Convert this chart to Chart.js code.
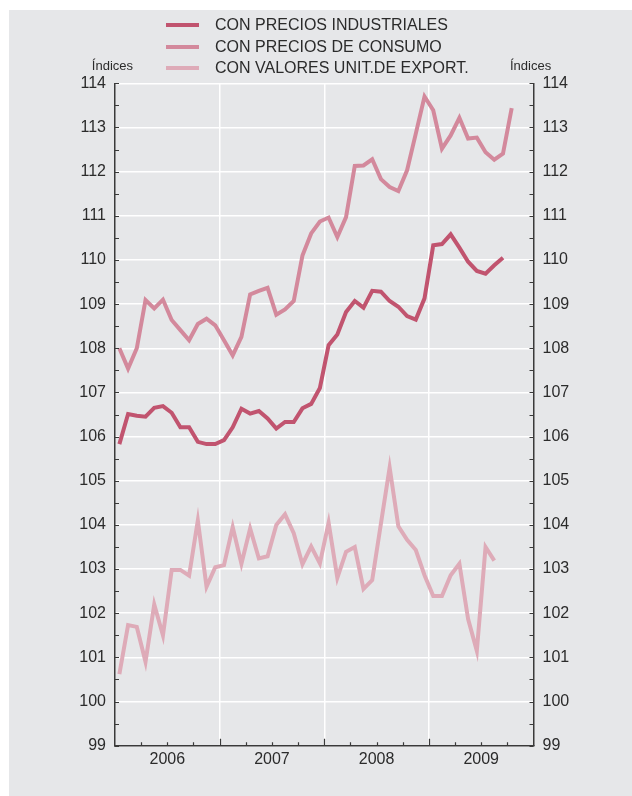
<!DOCTYPE html>
<html>
<head>
<meta charset="utf-8">
<script src="https://cdn.jsdelivr.net/npm/chart.js@4/dist/chart.umd.min.js"></script>
<style>
  html, body { margin: 0; padding: 0; background: #fff; }
  #panel { position: absolute; left: 9px; top: 10px; width: 623px; height: 786px; background: #e6e7e9; }
  #chart { position: absolute; left: 0; top: 0; }
  .legend { position: absolute; left: 0; top: 0; font-family: "Liberation Sans", Arial, sans-serif; font-size: 16px; color: #2b2b2b; }
  .legend-item { position: absolute; left: 157px; height: 20px; white-space: nowrap; }
  .legend-item .swatch { position: absolute; left: 0; top: 8px; width: 33px; height: 4px; }
  .legend-item .label { position: absolute; left: 49px; top: 0; line-height: 20px; }
</style>
</head>
<body>
<div id="panel">
  <canvas id="chart" width="623" height="786"></canvas>
  <div class="legend" id="legend"></div>
</div>
<script>
// monthly series, January 2006 onwards
const years = ['2006', '2007', '2008', '2009'];
const seriesNames = ['CON PRECIOS INDUSTRIALES', 'CON PRECIOS DE CONSUMO', 'CON VALORES UNIT.DE EXPORT.'];
const seriesColors = ['#c1546f', '#d3899c', '#deabb8'];

const industriales = [
  105.83, 106.51, 106.47, 106.45, 106.65, 106.69, 106.54, 106.21, 106.21, 105.88, 105.83, 105.83,
  105.92, 106.21, 106.63, 106.52, 106.58, 106.41, 106.18, 106.33, 106.33, 106.64, 106.74, 107.1,
  108.07, 108.31, 108.82, 109.07, 108.92, 109.3, 109.28, 109.07, 108.94, 108.73, 108.65, 109.13,
  110.33, 110.36, 110.58, 110.28, 109.96, 109.75, 109.69, 109.88, 110.05
];
const consumo = [
  108.0, 107.54, 108.0, 109.09, 108.9, 109.1, 108.64, 108.41, 108.18, 108.55, 108.67, 108.52,
  108.18, 107.84, 108.26, 109.22, 109.3, 109.37, 108.76, 108.88, 109.07, 110.1, 110.6, 110.87,
  110.96, 110.52, 110.97, 112.13, 112.14, 112.28, 111.83, 111.65, 111.56, 112.03, 112.86, 113.7,
  113.39, 112.52, 112.82, 113.22, 112.75, 112.77, 112.44, 112.27, 112.41, 113.44
];
const exportacion = [
  100.62, 101.73, 101.69, 100.9, 102.2, 101.5, 102.98, 102.98, 102.85, 104.1, 102.6, 103.04,
  103.09, 103.95, 103.12, 103.92, 103.24, 103.29, 104.0, 104.24, 103.81, 103.11, 103.51, 103.13,
  104.05, 102.8, 103.39, 103.5, 102.55, 102.75, 104.03, 105.3, 103.97, 103.66, 103.43, 102.86,
  102.39, 102.39, 102.86, 103.12, 101.87, 101.15, 103.5, 103.19
];

const yMin = 99;
const yMax = 114;
const monthsShown = years.length * 12;
const axisColor = '#3a3a3a';
const fontFamily = '"Liberation Sans", Arial, sans-serif';

// points sit in the middle of each month
function toPoints(values) {
  return values.map((v, i) => ({ x: i + 0.5, y: v }));
}

// small ticks drawn on the inner side of the axes, plus the "Índices" captions
const innerTicks = {
  id: 'innerTicks',
  afterDraw(chart) {
    const { ctx, chartArea: a, scales } = chart;
    const y = scales.y, x = scales.x;
    ctx.save();
    ctx.strokeStyle = axisColor;
    ctx.lineWidth = 1.2;
    ctx.beginPath();
    for (let v = yMin; v <= yMax; v += 0.5) {
      const py = Math.round(y.getPixelForValue(v)) + 0.5;
      ctx.moveTo(a.left, py); ctx.lineTo(a.left + 4, py);
      ctx.moveTo(a.right - 4, py); ctx.lineTo(a.right, py);
    }
    for (let m = 3; m < monthsShown; m += 3) {
      const px = Math.round(x.getPixelForValue(m)) + 0.5;
      const len = m % 12 === 0 ? 7 : 3.5;
      ctx.moveTo(px, a.bottom); ctx.lineTo(px, a.bottom - len);
    }
    ctx.stroke();

    ctx.fillStyle = '#2b2b2b';
    ctx.font = '13px ' + fontFamily;
    ctx.textBaseline = 'alphabetic';
    ctx.textAlign = 'right';
    ctx.fillText('Índices', 124, 60);
    ctx.textAlign = 'left';
    ctx.fillText('Índices', 501, 60);
    ctx.restore();
  }
};

const tickFont = { family: fontFamily, size: 16 };

new Chart(document.getElementById('chart'), {
  type: 'line',
  data: {
    datasets: [industriales, consumo, exportacion].map((vals, i) => ({
      label: seriesNames[i],
      data: toPoints(vals),
      borderColor: seriesColors[i],
      backgroundColor: seriesColors[i],
      borderWidth: 4,
      pointRadius: 0,
      tension: 0,
      order: 3 - i
    }))
  },
  options: {
    responsive: false,
    animation: false,
    layout: { padding: { top: 73.3, left: 0, right: 0, bottom: 0 } },
    plugins: { legend: { display: false }, tooltip: { enabled: false } },
    scales: {
      x: {
        type: 'linear',
        min: 0,
        max: monthsShown,
        afterBuildTicks(axis) {
          const t = [];
          for (let m = 0; m <= monthsShown; m += 6) t.push({ value: m });
          axis.ticks = t;
        },
        afterFit(scale) { scale.height = 50.3; },
        grid: {
          drawTicks: false,
          lineWidth: 1.5,
          color: ctx => {
            const v = ctx.tick ? ctx.tick.value : 0;
            return (v % 12 === 0 && v > 0 && v < monthsShown) ? '#ffffff' : 'rgba(0,0,0,0)';
          }
        },
        border: { display: true, color: axisColor, width: 1.5 },
        ticks: {
          autoSkip: false,
          maxRotation: 0,
          padding: 4,
          color: '#2b2b2b',
          font: tickFont,
          callback: v => (v % 12 === 6 ? years[(v - 6) / 12] : '')
        }
      },
      y: {
        position: 'left',
        min: yMin,
        max: yMax,
        afterFit(scale) { scale.width = 106; },
        grid: { drawTicks: false, color: '#ffffff', lineWidth: 1.5 },
        border: { display: true, color: axisColor, width: 1.5 },
        ticks: { stepSize: 1, padding: 9, color: '#2b2b2b', font: tickFont }
      },
      y2: {
        position: 'right',
        min: yMin,
        max: yMax,
        afterFit(scale) { scale.width = 98.5; },
        grid: { display: false, drawTicks: false },
        border: { display: true, color: axisColor, width: 1.5 },
        ticks: { stepSize: 1, padding: 9, color: '#2b2b2b', font: tickFont }
      }
    }
  },
  plugins: [innerTicks]
});

// legend, one series per row
const legend = document.getElementById('legend');
const rowCentres = [15, 36.5, 58];
seriesNames.forEach((name, i) => {
  const item = document.createElement('div');
  item.className = 'legend-item';
  item.style.top = (rowCentres[i] - 10) + 'px';
  item.innerHTML = '<span class="swatch" style="background:' + seriesColors[i] + '"></span>' +
    '<span class="label">' + name + '</span>';
  legend.appendChild(item);
});
</script>
</body>
</html>
